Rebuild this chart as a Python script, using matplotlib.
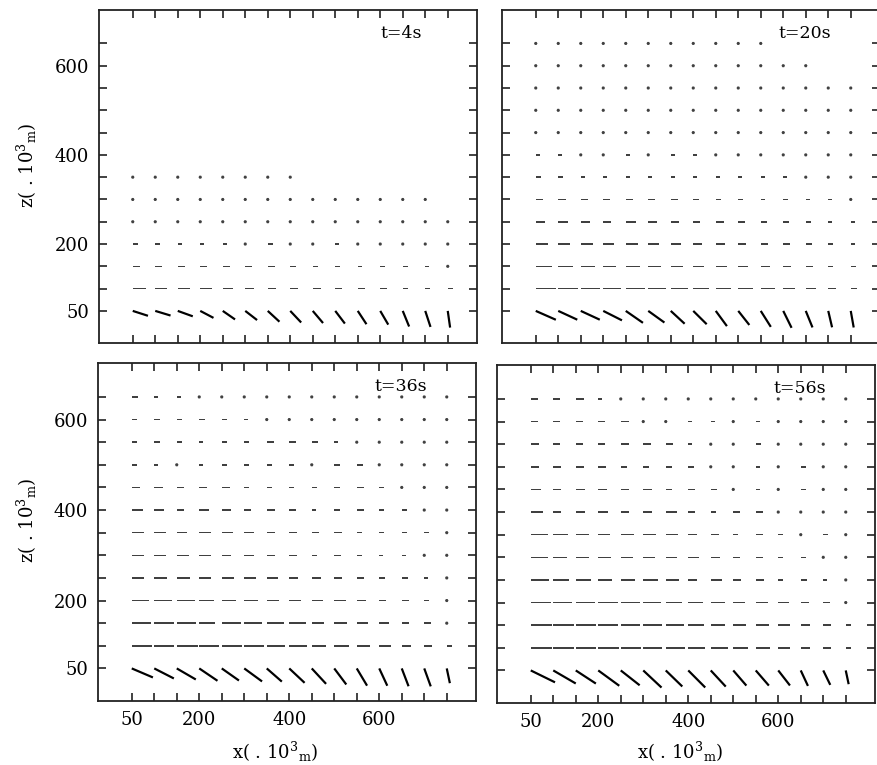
import numpy as np
import matplotlib.pyplot as plt

plt.rcParams['font.family'] = ['DejaVu Serif']
plt.rcParams['mathtext.fontset'] = 'dejavuserif'

nan = np.nan

# grid of the velocity field (units of 10^3 m)
x_km = [50, 100, 150, 200, 250, 300, 350, 400, 450, 500, 550, 600, 650, 700, 750]
z_km = [50, 100, 150, 200, 250, 300, 350, 400, 450, 500, 550, 600, 650]

# vector length on each level (lowest level first), nan = not drawn, 0 = dot
speed_4s = [
    [16, 16, 16, 15, 15, 15, 16, 16, 16, 16, 16, 16, 17, 17, 17],
    [13, 12, 12, 12, 10, 9, 8, 8, 8, 7, 7, 7, 5, 5, 5],
    [7, 7, 7, 7, 7, 7, 7, 6, 5, 5, 4, 5, 5, 4, 3],
    [5, 5, 4, 4, 4, 3, 5, 3, 3, 4, 3, 3, 2, 2, 2],
    [0, 0, 0, 0, 0, 0, 0, 0, 0, 0, 0, 0, 0, 0, 0],
    [0, 0, 0, 0, 0, 0, 0, 0, 0, 0, 0, 0, 0, 0, nan],
    [0, 0, 0, 0, 0, 0, 0, 0, nan, nan, nan, nan, nan, nan, nan],
    [nan] * 15,
    [nan] * 15,
    [nan] * 15,
    [nan] * 15,
    [nan] * 15,
    [nan] * 15,
]
speed_20s = [
    [22, 21, 21, 21, 21, 20, 19, 19, 19, 18, 19, 19, 18, 17, 17],
    [20, 20, 19, 18, 19, 18, 17, 16, 15, 15, 14, 12, 10, 8, 6],
    [16, 15, 14, 13, 14, 13, 12, 11, 11, 10, 9, 8, 7, 5, 5],
    [12, 12, 12, 11, 12, 11, 10, 9, 9, 8, 7, 7, 6, 5, 4],
    [9, 10, 9, 8, 10, 9, 8, 7, 8, 7, 6, 6, 5, 4, 4],
    [7, 8, 7, 7, 7, 7, 7, 6, 5, 5, 4, 5, 4, 4, 3],
    [5, 5, 4, 4, 4, 4, 4, 4, 4, 4, 4, 4, 0, 0, 0],
    [4, 4, 3, 3, 4, 3, 4, 4, 3, 3, 0, 0, 0, 0, 0],
    [3, 3, 3, 3, 3, 2, 0, 0, 0, 0, 0, 0, 0, 0, 0],
    [0, 0, 0, 0, 0, 0, 0, 0, 0, 0, 0, 0, 0, 0, 0],
    [0, 0, 0, 0, 0, 0, 0, 0, 0, 0, 0, 0, 0, 0, 0],
    [0, 0, 0, 0, 0, 0, 0, 0, 0, 0, 0, 0, 0, nan, nan],
    [0, 0, 0, 0, 0, 0, 0, 0, 0, 0, 0, nan, nan, nan, nan],
]
speed_36s = [
    [23, 22, 22, 22, 21, 22, 20, 21, 21, 20, 20, 19, 19, 19, 15],
    [20, 20, 21, 20, 20, 20, 18, 18, 14, 15, 13, 12, 9, 8, 5],
    [19, 20, 19, 16, 19, 18, 17, 17, 12, 13, 11, 10, 7, 7, 3],
    [17, 18, 18, 15, 14, 14, 12, 12, 11, 12, 9, 7, 7, 5, 2],
    [12, 13, 13, 12, 12, 12, 11, 9, 9, 8, 7, 6, 6, 4, 2],
    [12, 12, 12, 12, 9, 10, 8, 8, 5, 7, 5, 4, 4, 3, 3],
    [12, 12, 10, 12, 11, 10, 8, 8, 7, 8, 5, 5, 5, 5, 2],
    [11, 10, 7, 10, 9, 7, 8, 7, 4, 6, 7, 5, 5, 3, 2],
    [8, 9, 7, 8, 8, 5, 5, 5, 5, 6, 7, 5, 3, 3, 2],
    [5, 4, 3, 4, 5, 5, 5, 5, 3, 6, 6, 3, 3, 0, 0],
    [5, 6, 5, 4, 5, 5, 7, 7, 6, 4, 3, 3, 0, 0, 0],
    [5, 6, 5, 6, 5, 4, 3, 3, 0, 3, 0, 0, 0, 0, 0],
    [6, 4, 4, 2, 3, 3, 3, 3, 0, 2, 0, 0, 0, 0, 0],
]
speed_56s = [
    [27, 26, 24, 26, 24, 25, 23, 24, 22, 20, 20, 19, 17, 16, 14],
    [21, 21, 20, 21, 20, 19, 19, 17, 17, 15, 14, 12, 9, 8, 5],
    [21, 21, 20, 20, 19, 19, 18, 16, 14, 13, 13, 12, 9, 8, 5],
    [20, 19, 19, 20, 19, 18, 16, 15, 14, 12, 12, 11, 8, 7, 3],
    [18, 16, 15, 14, 14, 15, 13, 9, 11, 8, 8, 5, 6, 4, 2],
    [17, 14, 13, 13, 12, 12, 11, 11, 9, 7, 7, 5, 5, 3, 2],
    [17, 15, 13, 12, 13, 13, 12, 9, 8, 5, 7, 5, 3, 5, 0],
    [12, 8, 9, 10, 8, 9, 11, 7, 5, 7, 7, 3, 3, 3, 0],
    [10, 8, 9, 9, 8, 9, 6, 7, 6, 3, 4, 3, 5, 3, 0],
    [8, 8, 8, 8, 6, 6, 6, 6, 3, 3, 4, 3, 5, 0, 0],
    [8, 7, 7, 7, 8, 8, 7, 4, 3, 3, 5, 3, 0, 0, 0],
    [7, 7, 7, 7, 8, 3, 3, 4, 4, 3, 4, 0, 0, 0, 0],
    [7, 7, 8, 4, 3, 3, 3, 3, 3, 3, 2, 0, 0, 0, 0],
]

# angle below horizontal of the vectors on the lowest level (degrees);
# all higher levels are horizontal
dip_4s = [18, 17, 20, 28, 35, 38, 43, 47, 50, 53, 57, 60, 68, 72, 82]
dip_20s = [24, 25, 25, 27, 35, 36, 43, 45, 54, 52, 58, 64, 68, 77, 80]
dip_36s = [23, 27, 30, 34, 35, 36, 41, 43, 47, 53, 59, 65, 69, 70, 78]
dip_56s = [26, 30, 33, 36, 38, 43, 44, 45, 47, 49, 49, 52, 65, 64, 78]

labels = ['t=4s', 't=20s', 't=36s', 't=56s']

W, H = 877, 765
fig = plt.figure(figsize=(W / 100, H / 100), dpi=100)

# panel boxes in pixels: left, top, width, height
boxes = [(99, 10, 378, 333), (502, 10, 378, 333),
         (98, 363, 378, 338), (497, 365, 378, 338)]


def draw_panel(ax, speed, dip, label):
    X, Z = np.meshgrid(x_km, z_km)
    S = np.array(speed, dtype=float)
    a = np.zeros_like(S)
    a[0] = dip
    U = np.ma.masked_invalid(S * np.cos(np.radians(a)))
    V = np.ma.masked_invalid(-S * np.sin(np.radians(a)))
    common = dict(angles='xy', scale_units='xy', scale=0.45, pivot='tail',
                  headwidth=1, headlength=0, headaxislength=0)
    ax.quiver(X[1:], Z[1:], U[1:], V[1:], width=0.0042, minlength=2.2,
              color='#404040', **common)
    ax.quiver(X[0], Z[0], U[0], V[0], width=0.0058, minlength=1.0,
              color='black', **common)
    ax.set_xlim(-25, 815)
    ax.set_ylim(-22, 725)
    ax.set_xticks(x_km, minor=True)
    ax.set_yticks(z_km, minor=True)
    ax.set_xticks([50, 200, 400, 600])
    ax.set_yticks([50, 200, 400, 600])
    ax.tick_params(which='both', direction='in', top=True, right=True,
                   length=6, width=1.2, labelsize=13, color='#222222')
    ax.tick_params(axis='y', pad=7)
    ax.tick_params(axis='x', pad=7)
    for sp in ax.spines.values():
        sp.set_linewidth(1.3)
        sp.set_color('#222222')
    ax.text(0.80, 0.93, label, transform=ax.transAxes, ha='center',
            va='center', fontsize=12.5)


speeds = [speed_4s, speed_20s, speed_36s, speed_56s]
dips = [dip_4s, dip_20s, dip_36s, dip_56s]
for i, (l, t, w, h) in enumerate(boxes):
    ax = fig.add_axes([l / W, 1 - (t + h) / H, w / W, h / H])
    draw_panel(ax, speeds[i], dips[i], labels[i])
    ax.tick_params(labelleft=(i % 2 == 0), labelbottom=(i >= 2))

ylab = r'z( . 10$^3$$_{\rm m}$)'
xlab = r'x( . 10$^3$$_{\rm m}$)'
fig.text(27 / W, 1 - 165 / H, ylab, rotation=90, ha='center', va='center', fontsize=13)
fig.text(27 / W, 1 - 520 / H, ylab, rotation=90, ha='center', va='center', fontsize=13)
fig.text(275 / W, 1 - 752 / H, xlab, ha='center', va='center', fontsize=13)
fig.text(680 / W, 1 - 752 / H, xlab, ha='center', va='center', fontsize=13)

fig.savefig('out.png', dpi=100)
